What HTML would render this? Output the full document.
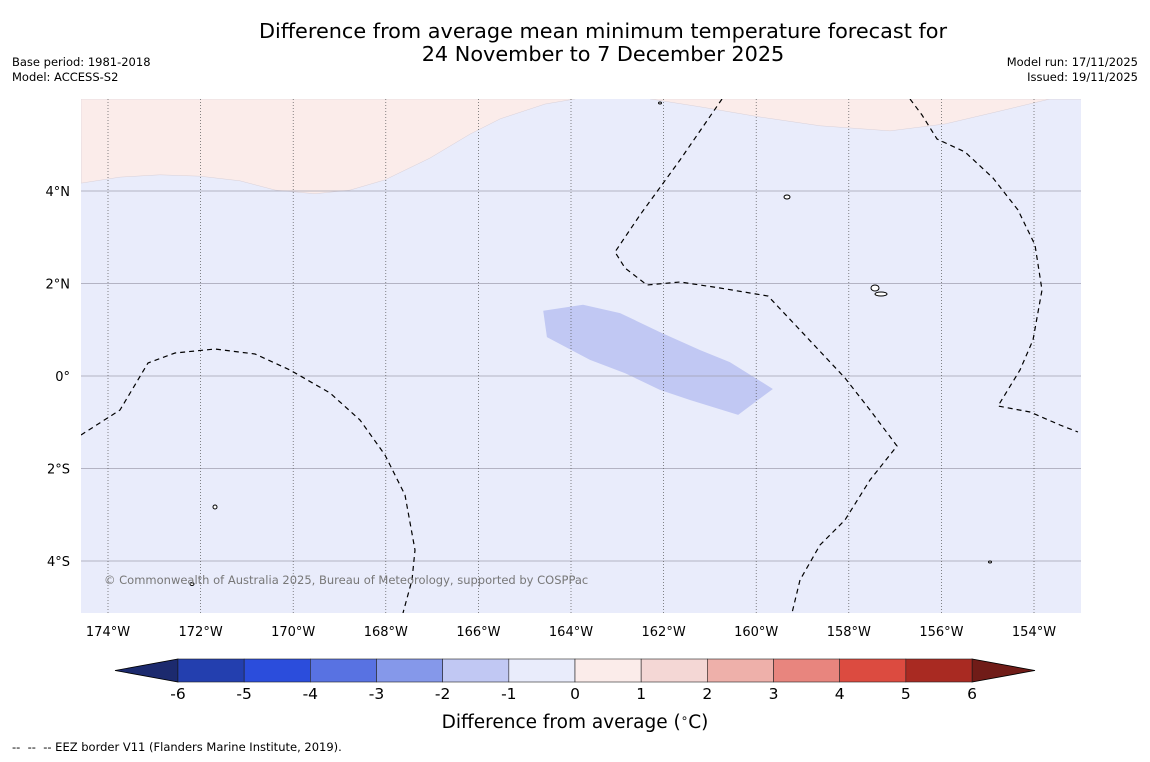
<!DOCTYPE html>
<html><head><meta charset="utf-8"><style>
body{margin:0;background:#fff;width:1150px;height:758px;overflow:hidden;font-family:"DejaVu Sans","Liberation Sans",sans-serif}
</style></head><body>
<svg id="s" width="1150" height="758" viewBox="0 0 1150 758" xmlns="http://www.w3.org/2000/svg">
<text x="603" y="38" text-anchor="middle" font-size="20.8" fill="#000">Difference from average mean minimum temperature forecast for</text>
<text x="603" y="61" text-anchor="middle" font-size="20.8" fill="#000">24 November to 7 December 2025</text>
<text x="12" y="66" font-size="11.5">Base period: 1981-2018</text>
<text x="12" y="81" font-size="11.5">Model: ACCESS-S2</text>
<text x="1138" y="66" font-size="11.5" text-anchor="end">Model run: 17/11/2025</text>
<text x="1138" y="81" font-size="11.5" text-anchor="end">Issued: 19/11/2025</text>
<defs><clipPath id="mc"><rect x="81" y="99" width="1000" height="514"/></clipPath></defs>
<g id="map" clip-path="url(#mc)"></g>
<g id="axes"></g>
<g id="cbar"></g>
<text x="575" y="728" text-anchor="middle" font-size="18.5">Difference from average (<tspan font-size="12" dy="-6">∘</tspan><tspan dy="6">C)</tspan></text>
<text x="12" y="751" font-size="11.5" xml:space="preserve">--  --  -- EEZ border V11 (Flanders Marine Institute, 2019).</text>
</svg>
<script>
const lonTicks=[-174,-172,-170,-168,-166,-164,-162,-160,-158,-156,-154];
const latTicks=[4,2,0,-2,-4];
const latLabels=["4°N","2°N","0°","2°S","4°S"];
const cbLevels=[-6,-5,-4,-3,-2,-1,0,1,2,3,4,5,6];
const cbColors=["#233faf","#2b4ddc","#5872e2","#8598ea","#c1c8f3","#e9ecfb","#fbecea","#f4d7d5","#eeb0aa","#e8857e","#dc4b40","#a92a22"];
const pinkLeftLon=[-174.58,-173.74,-172.88,-172.01,-171.15,-170.39,-169.53,-168.77,-168.02,-167.05,-166.18,-165.53,-164.56,-163.91];
const pinkLeftLat=[4.17,4.30,4.35,4.32,4.22,4.02,3.94,4.02,4.24,4.71,5.23,5.56,5.88,5.99];
const pinkRightLon=[-162.29,-161.21,-159.92,-158.62,-157.11,-155.92,-154.73,-153.65];
const pinkRightLat=[5.99,5.82,5.60,5.41,5.30,5.45,5.73,5.99];
const blobLon=[-164.60,-163.74,-162.94,-162.08,-161.21,-160.57,-159.64,-160.39,-161.43,-162.08,-162.83,-163.59,-164.52];
const blobLat=[1.41,1.54,1.36,0.95,0.56,0.30,-0.28,-0.84,-0.52,-0.30,0.06,0.35,0.84];
const X=lon=>108+(lon+174)*46.3, Y=lat=>191-(lat-4)*46.25;
const cbX=v=>178+(v+6)*(794/12);
const NS="http://www.w3.org/2000/svg";
function mk(t,a,p){const e=document.createElementNS(NS,t);for(const k in a)e.setAttribute(k,a[k]);p.appendChild(e);return e;}
const map=document.getElementById('map'),axes=document.getElementById('axes'),cb=document.getElementById('cbar');
let e=mk('rect',{x:81,y:99,width:1000,height:514,fill:'#e9ecfb'},map);


let pl="81,99 "+pinkLeftLon.map((l,i)=>X(l)+","+Y(pinkLeftLat[i])).join(" ");
e=mk('polygon',{points:pl,fill:'#fbecea',stroke:'#d8d0d8','stroke-width':0.5},map);


let pr=pinkRightLon.map((l,i)=>X(l)+","+Y(pinkRightLat[i])).join(" ")+" 1081,99";
e=mk('polygon',{points:pr,fill:'#fbecea',stroke:'#d8d0d8','stroke-width':0.5},map);


e=mk('polygon',{points:blobLon.map((l,i)=>X(l)+","+Y(blobLat[i])).join(" "),fill:'#c1c8f3'},map);


latTicks.forEach((t,i)=>{
 e=mk('line',{x1:81,x2:1081,y1:Y(t),y2:Y(t),stroke:'#a0a0b0','stroke-width':0.8},map);
 
 
 e=mk('text',{x:70,y:Y(t)+5,'text-anchor':'end','font-size':13},axes);e.textContent=latLabels[i];
 
 
});
lonTicks.forEach(t=>{
 e=mk('line',{x1:X(t),x2:X(t),y1:99,y2:613,stroke:'#555','stroke-width':0.7,'stroke-dasharray':'1,2'},map);
 
 
 e=mk('text',{x:X(t),y:636,'text-anchor':'middle','font-size':13},axes);e.textContent=Math.abs(t)+"°W";
 
 
});
const eez=["M81,435 L120,410 L148,363 L175,353 L215,349 L255,354 L290,370 L330,393 L360,420 L385,455 L405,495 L415,550 L412,580 L403,613",
"M722,99 L680,160 L640,215 L615,252 L625,268 L647,285 L680,282 L720,288 L768,296 L800,330 L845,378 L870,410 L897,446 L870,480 L845,520 L820,545 L800,580 L792,613",
"M910,99 L922,115 L937,139 L965,152 L993,178 L1018,210 L1035,245 L1042,290 L1033,340 L1020,370 L998,406 L1030,412 L1060,425 L1078,432"];
eez.forEach(d=>{e=mk('path',{d:d,fill:'none',stroke:'#000','stroke-width':1.2,'stroke-dasharray':'5,4'},map);
 
 });
[[787,197,3,2],[875,288,4,3],[881,294,6,2],[215,507,2,2],[192,584,2,1.5],[660,103,1.5,1],[990,562,1.5,1]].forEach(c=>{
 e=mk('ellipse',{cx:c[0],cy:c[1],rx:c[2],ry:c[3],fill:'#fff',stroke:'#000','stroke-width':1},map);
 
 });
e=mk('text',{x:104,y:584,'font-size':11.5,fill:'#777'},map);e.textContent="© Commonwealth of Australia 2025, Bureau of Meteorology, supported by COSPPac";


const cy0=659,cy1=682;
e=mk('polygon',{points:`115,${(cy0+cy1)/2} ${cbX(-6)},${cy0} ${cbX(-6)},${cy1}`,fill:'#1c2a6e',stroke:'#000','stroke-width':0.8},cb);


e=mk('polygon',{points:`1035,${(cy0+cy1)/2} ${cbX(6)},${cy0} ${cbX(6)},${cy1}`,fill:'#701c18',stroke:'#000','stroke-width':0.8},cb);


cbColors.forEach((c,i)=>{
 e=mk('rect',{x:cbX(cbLevels[i]),y:cy0,width:cbX(cbLevels[i+1])-cbX(cbLevels[i]),height:cy1-cy0,fill:c,stroke:'#222','stroke-width':0.6},cb);
 
 
});
cbLevels.forEach(v=>{
 e=mk('text',{x:cbX(v),y:699,'text-anchor':'middle','font-size':15.5},cb);e.textContent=v;
 
 
});
</script>
</body></html>
